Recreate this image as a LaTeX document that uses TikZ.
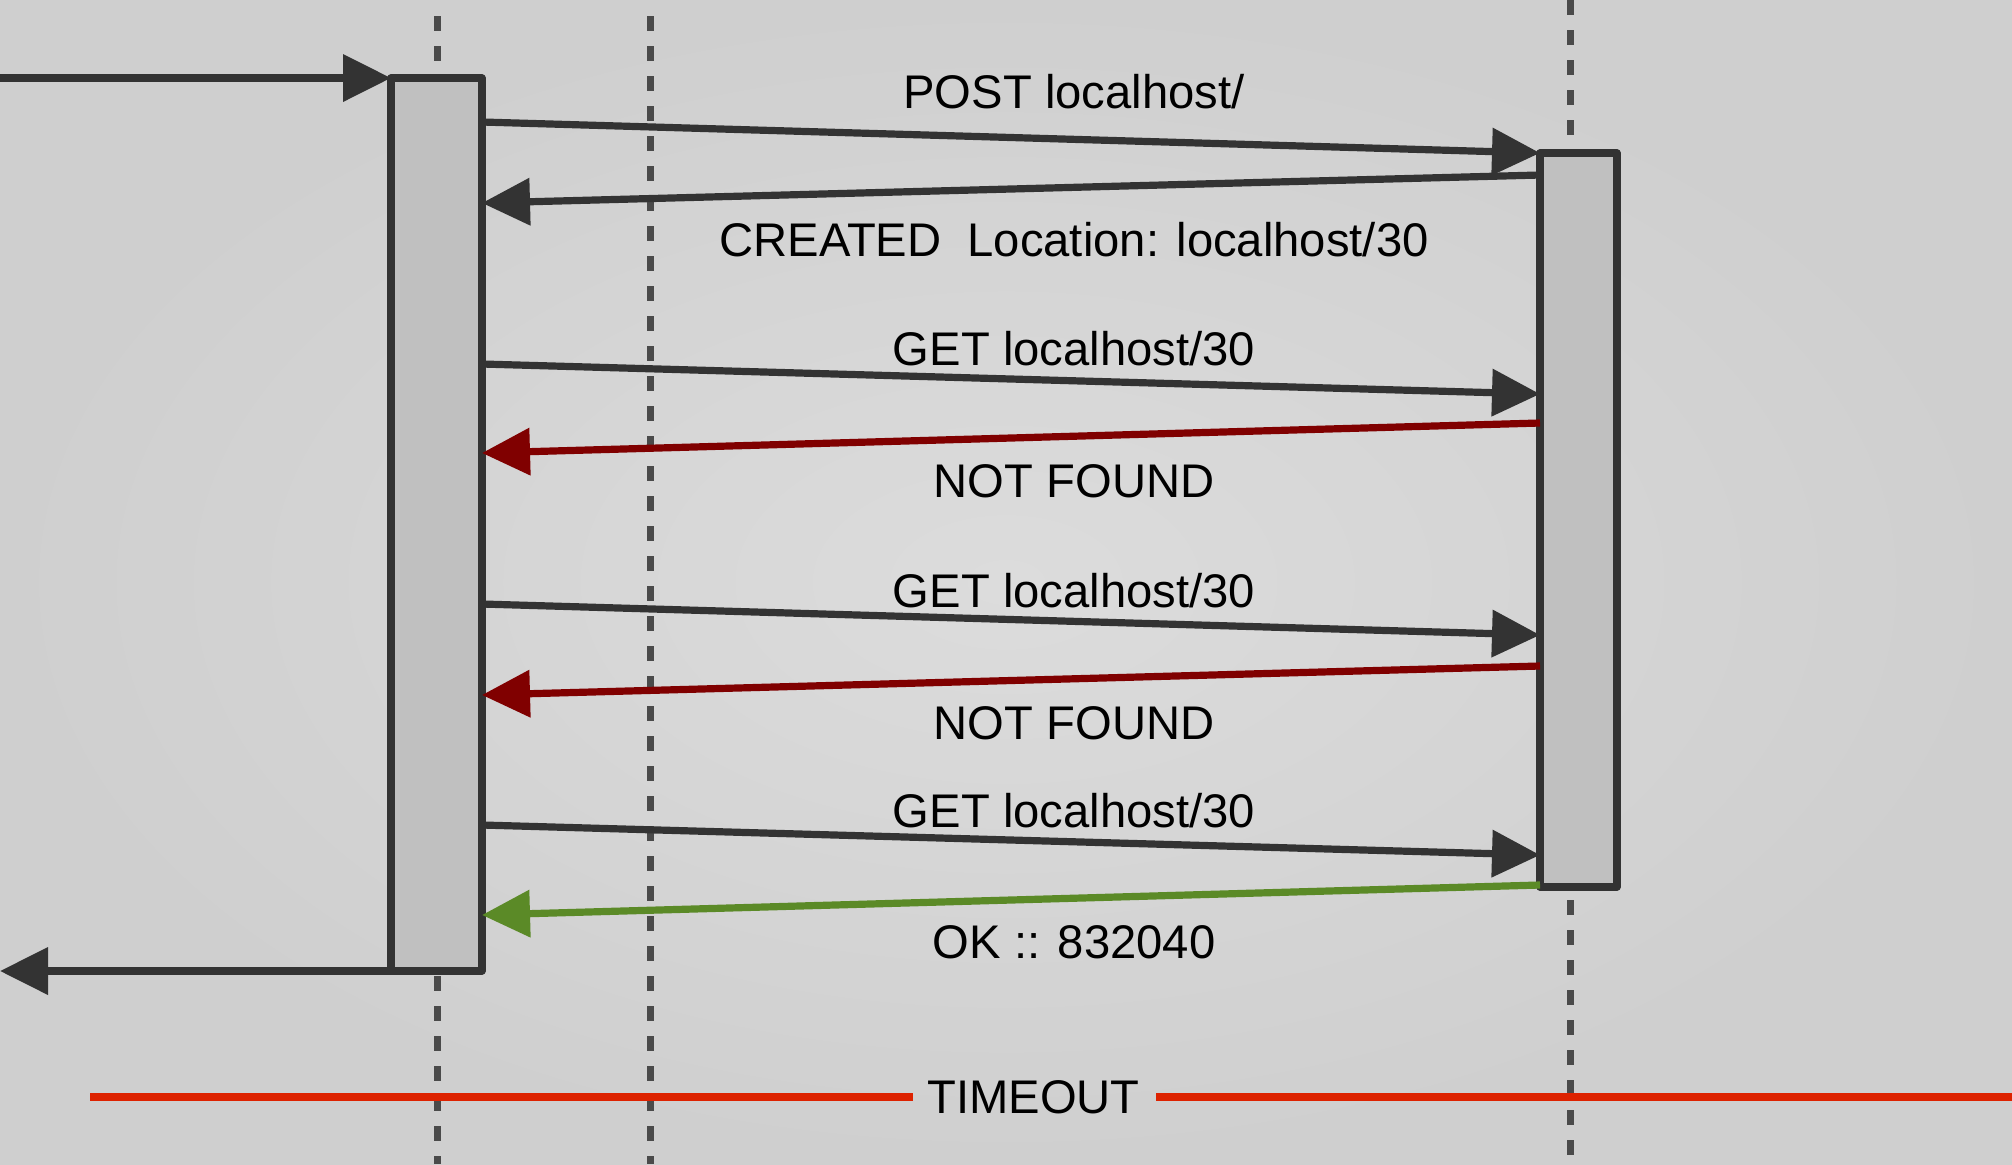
\documentclass[tikz,border=0pt]{standalone}
\usepackage{fontspec}
\setmainfont{Liberation Sans}
\usetikzlibrary{arrows.meta}
\definecolor{ink}{HTML}{333333}
\definecolor{dashc}{HTML}{4A4A4A}
\definecolor{boxfill}{HTML}{C0C0C0}
\definecolor{errred}{HTML}{800000}
\definecolor{okgreen}{HTML}{5B8A27}
\definecolor{tored}{HTML}{DD2200}
\definecolor{bgin}{HTML}{DCDCDC}
\definecolor{bgout}{HTML}{CFCFCF}
\tikzset{
  lifeline/.style={draw=dashc, line width=3.5pt, dash pattern=on 7.5pt off 7.5pt},
  actbox/.style={draw=ink, fill=boxfill, line width=3.6pt, line join=round, rectangle, inner sep=0pt, outer sep=0pt},
  msg/.style={draw=#1, line width=3.6pt, -{Triangle[length=24pt,width=23pt]}},
  msg/.default=ink,
  lbl/.style={anchor=base, inner sep=0pt, font=\fontsize{23.6}{28}\selectfont, text=black},
  tline/.style={draw=tored, line width=4pt}
}
\begin{document}
\begin{tikzpicture}[x=0.5pt,y=-0.5pt]
\useasboundingbox (0,0) rectangle (2012,1164);
\shade[inner color=bgin, outer color=bgout] (0,0) rectangle (2012,1164);
% lifelines
\coordinate (l1t) at (437,16); \coordinate (l1b) at (437,1164);
\coordinate (l2t) at (650,16); \coordinate (l2b) at (650,1164);
\coordinate (l3t) at (1570.5,0); \coordinate (l3b) at (1570.5,1164);
\draw[lifeline] (l1t) -- (l1b);
\draw[lifeline] (l2t) -- (l2b);
\draw[lifeline] (l3t) -- (l3b);
% activation boxes
\node[actbox, minimum width=45.5pt, minimum height=446.5pt] (A) at (436.5,524.5) {};
\node[actbox, minimum width=38.5pt, minimum height=367pt] (B) at (1578.5,520) {};
% external in/out
\coordinate (inS) at (0,78);
\coordinate (outE) at (0,971);
\draw[msg] (inS) -- (A.north west);
\draw[msg] (A.south west) -- (outE);
% message endpoints
\coordinate (m1s) at (482,122);  \coordinate (m1e) at (1540,153);
\coordinate (m2s) at (1540,175); \coordinate (m2e) at (482,203);
\coordinate (m3s) at (482,364);  \coordinate (m3e) at (1540,394);
\coordinate (m4s) at (1540,423); \coordinate (m4e) at (482,453);
\coordinate (m5s) at (482,604);  \coordinate (m5e) at (1540,635);
\coordinate (m6s) at (1540,666); \coordinate (m6e) at (482,695);
\coordinate (m7s) at (482,825);  \coordinate (m7e) at (1540,855);
\coordinate (m8s) at (1540,885); \coordinate (m8e) at (482,915);
\draw[msg] (m1s) -- (m1e);
\draw[msg] (m2s) -- (m2e);
\draw[msg] (m3s) -- (m3e);
\draw[msg=errred] (m4s) -- (m4e);
\draw[msg] (m5s) -- (m5e);
\draw[msg=errred] (m6s) -- (m6e);
\draw[msg] (m7s) -- (m7e);
\draw[msg=okgreen] (m8s) -- (m8e);
% labels
\node[lbl] (t1) at (1074,108) {POST localhost/};
\node[lbl] (t2) at (1074,256) {CREATED~~Location: localhost/30};
\node[lbl] (t3) at (1074,365) {GET localhost/30};
\node[lbl] (t4) at (1074,497) {NOT FOUND};
\node[lbl] (t5) at (1074,607) {GET localhost/30};
\node[lbl] (t6) at (1074,739) {NOT FOUND};
\node[lbl] (t7) at (1074,827) {GET localhost/30};
\node[lbl] (t8) at (1074,958) {OK :: 832040};
% timeout
\node[lbl] (to) at (1033.5,1113) {TIMEOUT};
\coordinate (toL) at (90,1097); \coordinate (toLe) at (913,1097);
\coordinate (toRs) at (1156,1097); \coordinate (toR) at (2012,1097);
\draw[tline] (toL) -- (toLe);
\draw[tline] (toRs) -- (toR);
\end{tikzpicture}
\end{document}
